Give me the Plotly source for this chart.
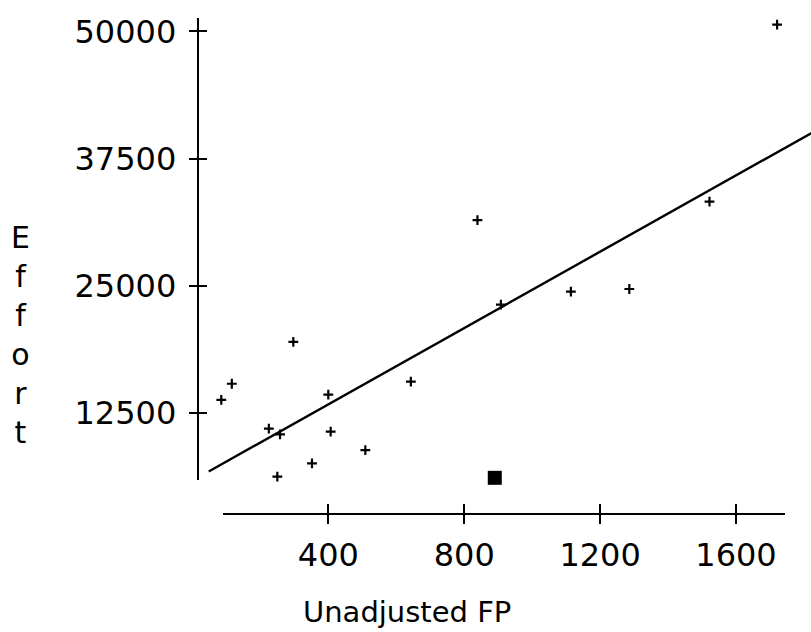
import numpy as np
import plotly.graph_objects as go

# ---- data ----
fp = [85, 116, 225, 258, 250, 297, 352, 400, 407, 509, 643, 839, 908, 1114, 1286, 1522, 1721]
effort = [13760, 15350, 10940, 10380, 6220, 19470, 7530, 14280, 10650, 8820, 15570, 31450, 23140, 24410, 24670, 33270, 50680]
outlier_fp = [890]
outlier_effort = [6100]

x_ticks = [400, 800, 1200, 1600]
y_ticks = [12500, 25000, 37500, 50000]
x_title = "Unadjusted FP"
y_title = "Effort"

# regression over all points (including the highlighted one)
all_x = np.array(fp + outlier_fp, dtype=float)
all_y = np.array(effort + outlier_effort, dtype=float)
slope, intercept = np.polyfit(all_x, all_y, 1)
line_x = np.array([48.0, 1900.0])
line_y = intercept + slope * line_x

W, H = 811, 632
FONT = "DejaVu Sans"

# pixel calibration of the reference
px_per_fp = 0.33975
fp0_px = 192.4
px_per_eff = 0.010248
eff0_px = 539.1  # y pixel of effort 0


def fp_at(px):
    return (px - fp0_px) / px_per_fp


def eff_at(py):
    return (eff0_px - py) / px_per_eff


fig = go.Figure()

fig.add_trace(go.Scatter(
    x=line_x, y=line_y, mode="lines",
    line=dict(color="black", width=2.4),
    xaxis="x", yaxis="y", hoverinfo="skip", showlegend=False,
))
fig.add_trace(go.Scatter(
    x=fp, y=effort, mode="markers",
    marker=dict(symbol="cross-thin", size=7, line=dict(color="black", width=2.2), color="black"),
    xaxis="x", yaxis="y", showlegend=False,
))
fig.add_trace(go.Scatter(
    x=outlier_fp, y=outlier_effort, mode="markers",
    marker=dict(symbol="square", size=14, color="black", line=dict(width=0)),
    xaxis="x", yaxis="y", showlegend=False,
))
# dummy traces so the decorative axes exist
fig.add_trace(go.Scatter(x=[None], y=[None], xaxis="x2", yaxis="y2", showlegend=False, hoverinfo="skip"))
fig.add_trace(go.Scatter(x=[None], y=[None], xaxis="x3", yaxis="y3", showlegend=False, hoverinfo="skip"))

x_ax_left, x_ax_right, x_ax_y = 223.3, 785.0, 513.3
y_ax_top, y_ax_bottom, y_ax_x = 13.3, 478.3, 197.7

xdom = [x_ax_left / W, x_ax_right / W]
ydom = [(H - y_ax_bottom) / H, (H - y_ax_top) / H]
xr = [fp_at(x_ax_left), fp_at(x_ax_right)]
yr = [eff_at(y_ax_bottom), eff_at(y_ax_top)]

tickfont = dict(family=FONT, size=32, color="black")

common_x = dict(domain=xdom, range=xr, tickmode="array", tickvals=x_ticks,
                showline=True, linecolor="black", linewidth=2, tickcolor="black",
                tickwidth=2, ticklen=9, showgrid=False, zeroline=False,
                anchor="free", position=(H - x_ax_y) / H, fixedrange=True)
common_y = dict(domain=ydom, range=yr, tickmode="array", tickvals=y_ticks,
                showline=True, linecolor="black", linewidth=2, tickcolor="black",
                tickwidth=2, ticklen=8, showgrid=False, zeroline=False,
                anchor="free", position=y_ax_x / W, fixedrange=True)

fig.update_layout(
    width=W, height=H,
    margin=dict(l=0, r=0, t=0, b=0),
    paper_bgcolor="white", plot_bgcolor="rgba(0,0,0,0)",
    xaxis=dict(domain=[0, 1], range=[fp_at(0), fp_at(W)], visible=False, fixedrange=True),
    yaxis=dict(domain=[0, 1], range=[eff_at(H), eff_at(0)], visible=False, fixedrange=True),
    xaxis2=dict(**common_x, ticks="outside", showticklabels=True, tickfont=tickfont,
                tickformat="d", ticklabelstandoff=3),
    yaxis2=dict(**common_y, ticks="outside", showticklabels=True, tickfont=tickfont,
                tickformat="d", ticklabelstandoff=6),
    xaxis3=dict(**common_x, ticks="inside", showticklabels=False, overlaying="x2"),
    yaxis3=dict(**common_y, ticks="inside", showticklabels=False, overlaying="y2"),
    font=dict(family=FONT, color="black"),
    showlegend=False,
)

fig.add_annotation(
    text=x_title, xref="paper", yref="paper",
    x=301.0 / W, y=(H - 612.0) / H, xanchor="left", yanchor="middle",
    showarrow=False, font=dict(family=FONT, size=29, color="black"),
)
fig.add_annotation(
    text="<br>".join(list(y_title)), xref="paper", yref="paper",
    x=20.0 / W, y=(H - 333.0) / H, xanchor="center", yanchor="middle",
    showarrow=False, font=dict(family=FONT, size=30, color="black"),
)

fig.write_html(
    "out.html",
    config={"displayModeBar": False, "staticPlot": True},
    post_script="document.body.style.margin='0';document.body.style.overflow='hidden';",
)
